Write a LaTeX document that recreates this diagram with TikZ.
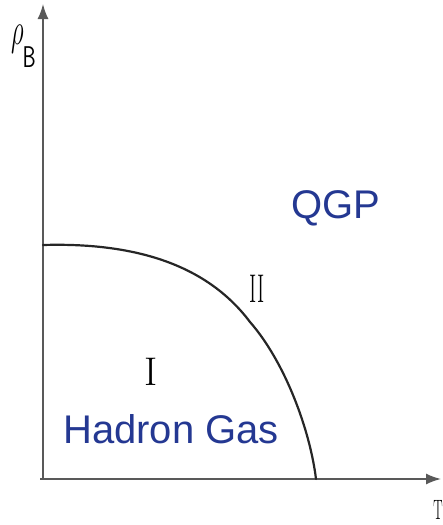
\documentclass[tikz,border=0pt]{standalone}
\usepackage{fix-cm}
\usepackage{fontspec}
\newfontfamily\labelfont{Liberation Sans}
\usetikzlibrary{arrows.meta}
\definecolor{labelblue}{RGB}{36,56,146}
\tikzset{
	axis/.style = {draw=black!65, line width=1.6pt, -{Latex[length=15pt, width=11pt]}},
	phase/.style = {text=labelblue, font=\labelfont\fontsize{40}{40}\selectfont, inner sep=0pt, anchor=base},
	roman/.style = {font=\fontsize{40}{40}\selectfont, inner sep=0pt, anchor=base}
}
\begin{document}
\begin{tikzpicture}[x = 1pt, y = -1pt]
		\useasboundingbox (0,0) rectangle (443,525);
		\coordinate (origin) at (43,479);
		\coordinate (ytip) at (43,4);
		\coordinate (xtip) at (441,479);
		\draw [axis] (origin) -- (ytip);
		\draw [axis] (40,479) -- (xtip);
		% phase boundary
		\draw [black!85, line width=2.2pt, line cap=round] (43,245) .. controls (130,242.5) and (205,262) .. (250,322) .. controls (285,362) and (310,430) .. (316,479);
		\node (rho) [inner sep=0pt, anchor=base west] at (11,44) {\scalebox{0.55}[1]{\fontsize{45}{45}\selectfont$\rho$}\kern-1pt\raisebox{-23pt}{\scalebox{0.7}[1]{\fontsize{30}{30}\selectfont\sffamily B}}};
		\node (temp) [roman, anchor=north] at (438,500) {\scalebox{0.5}[1]{\fontsize{28}{28}\selectfont T}};
		\node (qgp) [phase] at (336,218) {QGP};
		\node (hadron) [phase] at (171,443) {Hadron Gas};
		\node (regionI) [roman] at (151,385) {I};
		\node (regionII) [roman] at (257,302) {\scalebox{0.55}[1]{II}};
	\end{tikzpicture}
\end{document}
